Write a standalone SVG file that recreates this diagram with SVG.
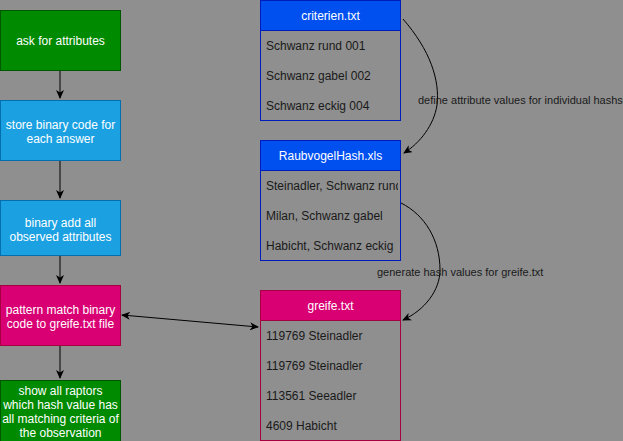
<svg xmlns="http://www.w3.org/2000/svg" width="623" height="441" viewBox="0 0 623 441">
<defs>
<style>
text{font-family:"Liberation Sans",Arial,sans-serif;font-size:12px}
.w{fill:#ffffff;text-anchor:middle}
.d{fill:#1a1a1a}
.lbl{fill:#1a1a1a;font-size:11px}
.green{fill:#008a00;stroke:#005700}
.blue{fill:#1ba1e2;stroke:#006eaf}
.pink{fill:#d80073;stroke:#a50040}
.tblue{fill:#0050ef;stroke:#001dbc}
.body{fill:#8f8f8f}
.edge{fill:none;stroke:#000;stroke-width:1}
</style>
<marker id="ah" markerWidth="10" markerHeight="10" refX="8" refY="4" orient="auto" markerUnits="userSpaceOnUse">
<path d="M0,0 L9,4 L0,8 L2.5,4 Z" fill="#000"/>
</marker>
<marker id="ahs" markerWidth="10" markerHeight="10" refX="1" refY="4" orient="auto" markerUnits="userSpaceOnUse">
<path d="M9,0 L0,4 L9,8 L6.5,4 Z" fill="#000"/>
</marker>
<clipPath id="c2"><rect x="260" y="170" width="138" height="90"/></clipPath>
</defs>
<rect width="623" height="441" fill="#8f8f8f"/>

<g id="connectors">
<line class="edge" x1="60" y1="70" x2="60" y2="98" marker-end="url(#ah)"/>
<line class="edge" x1="60" y1="160" x2="60" y2="198" marker-end="url(#ah)"/>
<line class="edge" x1="60" y1="255" x2="60" y2="283" marker-end="url(#ah)"/>
<line class="edge" x1="60" y1="345" x2="60" y2="378" marker-end="url(#ah)"/>
<line class="edge" x1="122" y1="315" x2="258" y2="327" marker-start="url(#ahs)" marker-end="url(#ah)"/>
<path class="edge" d="M403,19 C430,50 440,80 437,105 C434,125 420,143 404,153" marker-end="url(#ah)"/>
<path class="edge" d="M401,203 C425,215 440,240 440,270 C440,290 425,310 403,320" marker-end="url(#ah)"/>
<text class="lbl" x="418" y="104">define attribute values for individual hashs</text>
<text class="lbl" x="377" y="276">generate hash values for greife.txt</text>
</g>

<g id="ask">
<rect class="green" x="0.5" y="10.5" width="120" height="60"/>
<text class="w" x="60.5" y="44.5">ask for attributes</text>
</g>
<g id="store">
<rect class="blue" x="0.5" y="100.5" width="120" height="60"/>
<text class="w" x="60.5" y="129">store binary code for</text>
<text class="w" x="60.5" y="143">each answer</text>
</g>
<g id="binaryadd">
<rect class="blue" x="0.5" y="200.5" width="120" height="55"/>
<text class="w" x="60.5" y="226.5">binary add all</text>
<text class="w" x="60.5" y="240.5">observed attributes</text>
</g>
<g id="pattern">
<rect class="pink" x="0.5" y="285.5" width="120" height="60"/>
<text class="w" x="60.5" y="313.5">pattern match binary</text>
<text class="w" x="60.5" y="327.5">code to greife.txt file</text>
</g>
<g id="show">
<rect class="green" x="0.5" y="380.5" width="120" height="62"/>
<text class="w" x="60.5" y="395">show all raptors</text>
<text class="w" x="60.5" y="409">which hash value has</text>
<text class="w" x="60.5" y="423">all matching criteria of</text>
<text class="w" x="60.5" y="437">the observation</text>
</g>

<g id="criterien">
<rect class="tblue" x="260.5" y="0.5" width="140" height="120"/>
<rect class="body" x="261" y="30.5" width="139" height="89.5"/>
<line x1="260.5" y1="30.5" x2="400.5" y2="30.5" stroke="#001dbc"/>
<text class="w" x="330.5" y="20">criterien.txt</text>
<text class="d" x="266" y="50">Schwanz rund 001</text>
<text class="d" x="266" y="80">Schwanz gabel 002</text>
<text class="d" x="266" y="110">Schwanz eckig 004</text>
</g>

<g id="raubvogelhash">
<rect class="tblue" x="260.5" y="140.5" width="140" height="120"/>
<rect class="body" x="261" y="170.5" width="139" height="89.5"/>
<line x1="260.5" y1="170.5" x2="400.5" y2="170.5" stroke="#001dbc"/>
<text class="w" x="330.5" y="160">RaubvogelHash.xls</text>
<g clip-path="url(#c2)">
<text class="d" x="266" y="190">Steinadler, Schwanz rund</text>
</g>
<text class="d" x="266" y="220">Milan, Schwanz gabel</text>
<text class="d" x="266" y="250">Habicht, Schwanz eckig</text>
</g>

<g id="greife">
<rect class="pink" x="260.5" y="290.5" width="140" height="150"/>
<rect class="body" x="261" y="320.5" width="139" height="119.5"/>
<line x1="260.5" y1="320.5" x2="400.5" y2="320.5" stroke="#a50040"/>
<text class="w" x="330.5" y="310">greife.txt</text>
<text class="d" x="266" y="340">119769 Steinadler</text>
<text class="d" x="266" y="370">119769 Steinadler</text>
<text class="d" x="266" y="400">113561 Seeadler</text>
<text class="d" x="266" y="430">4609 Habicht</text>
</g>
</svg>
